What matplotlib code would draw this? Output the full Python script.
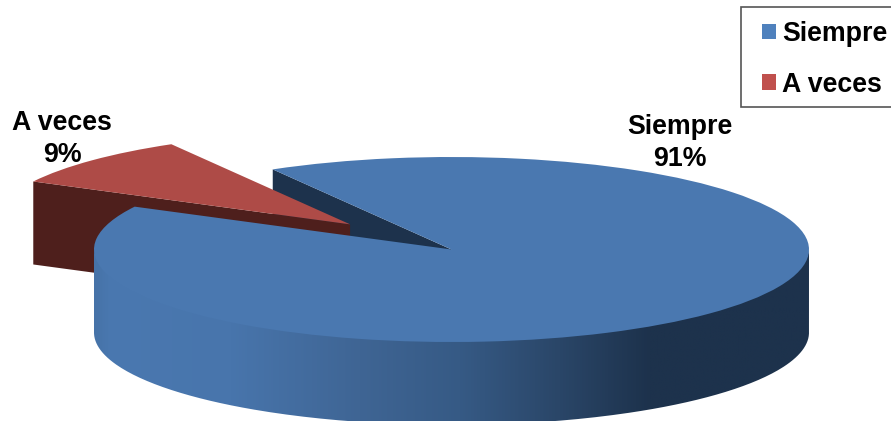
import numpy as np
import matplotlib
matplotlib.use("Agg")
import matplotlib.pyplot as plt
from matplotlib.patches import Patch, PathPatch, Polygon, Rectangle
from matplotlib.path import Path
from matplotlib.colors import LinearSegmentedColormap

categories = ["A veces", "Siempre"]
values = [9, 91]
top_colors = ["#ae4b47", "#4a78b0"]
legend_colors = {"Siempre": "#4f81bd", "A veces": "#c0504d"}

W, H = 891, 421
CX, CY, RX, RY = 451.5, 249.5, 357.5, 92.5
DEPTH = 83.0
START = 120.0
EXPLODE = [0.393, 0.0]
K = RX / RY
NAVY, BROWN = "#1d324c", "#4e1f1c"

def Y(py):
    return (H - py) * K

plt.rcParams["font.family"] = ["Liberation Sans", "DejaVu Sans"]
fig = plt.figure(figsize=(W / 100, H / 100), dpi=100)
ax = fig.add_axes([0, 0, 1, 1])

# wedge angles from the data
share = np.array(values, float) / sum(values) * 360
a0 = START
a1 = a0 + share[0]
mid = np.radians((a0 + a1) / 2)
ox = EXPLODE[0] * RX * np.cos(mid)
oy = EXPLODE[0] * RX * np.sin(mid)
dY = DEPTH * K

def rim(a):
    r = np.radians(a)
    return RX * np.cos(r), RX * np.sin(r)

cx, cy = CX, Y(CY)

# blue cut face seen through the gap
rx0, ry0 = rim(a0)
ax.add_patch(Polygon([(cx, cy), (cx + rx0, cy + ry0), (cx + rx0, cy + ry0 - dY), (cx, cy - dY)],
                     closed=True, fc=NAVY, ec="none", zorder=1))
# red cut face
rx1, ry1 = rim(a1)
rcx, rcy = cx + ox, cy + oy
ax.add_patch(Polygon([(rcx, rcy), (rcx + rx1, rcy + ry1), (rcx + rx1, rcy + ry1 - dY), (rcx, rcy - dY)],
                     closed=True, fc=BROWN, ec="none", zorder=2))

# top faces (pie's explode is in data units)
wedges, _ = ax.pie(values, colors=top_colors, startangle=START,
                   explode=[e * RX for e in EXPLODE],
                   center=(cx, cy), radius=RX, frame=False,
                   wedgeprops=dict(linewidth=0))
wedges[0].set_zorder(3)
wedges[1].set_zorder(5)

# outer side wall of the blue wedge, shaded left to right
ang = np.linspace(180, 360, 240)
xs = cx + RX * np.cos(np.radians(ang))
ys = cy + RX * np.sin(np.radians(ang))
overlap = 2 * K
verts = np.vstack([np.column_stack([xs, ys + overlap]),
                   np.column_stack([xs[::-1], ys[::-1] - dY]),
                   [[xs[0], ys[0] + overlap]]])
wall = PathPatch(Path(verts), transform=ax.transData, fc="none", ec="none")
ax.add_patch(wall)
stops_px = [94, 110, 230, 360, 460, 560, 650, 809]
stops_col = ["#4673a8", "#4a78b0", "#4875ac", "#3f6594", "#365a85", "#2a4668", NAVY, NAVY]
f = [(p - stops_px[0]) / (stops_px[-1] - stops_px[0]) for p in stops_px]
cmap = LinearSegmentedColormap.from_list("wall", list(zip(f, stops_col)))
im = ax.imshow(np.linspace(0, 1, 512)[None, :], cmap=cmap, aspect="auto",
               extent=(stops_px[0], stops_px[-1], Y(H), Y(200)), zorder=4)
im.set_clip_path(wall)

ax.set_xlim(0, W)
ax.set_ylim(0, H * K)
ax.set_aspect("auto")
ax.axis("off")

# data labels
fs = 19.3
ax.text(680, Y(143), f"{categories[1]}\n{values[1]}%", ha="center", va="center",
        fontsize=fs, fontweight="bold", color="black", linespacing=1.27, zorder=6)
ax.text(62, Y(139), f"{categories[0]}\n{values[0]}%", ha="center", va="center",
        fontsize=fs, fontweight="bold", color="black", linespacing=1.27, zorder=6)

# legend box (runs off the right edge of the picture)
fig.add_artist(Rectangle((741 / W, 1 - 107 / H), 170 / W, 100 / H, transform=fig.transFigure,
                         fc="white", ec="#555555", lw=1.2, zorder=6))
handles = [Patch(fc=legend_colors[c], ec="none") for c in ["Siempre", "A veces"]]
leg = fig.legend(handles, ["Siempre", "A veces"], loc="upper left",
                 bbox_to_anchor=(762 / W, 1 - 21 / H), bbox_transform=fig.transFigure,
                 prop=dict(size=fs, weight="bold"), frameon=False, borderaxespad=0, borderpad=0,
                 handlelength=0.52, handleheight=0.52, handletextpad=0.22, labelspacing=0.92)
leg.set_zorder(7)

fig.savefig("out.png", dpi=100)
